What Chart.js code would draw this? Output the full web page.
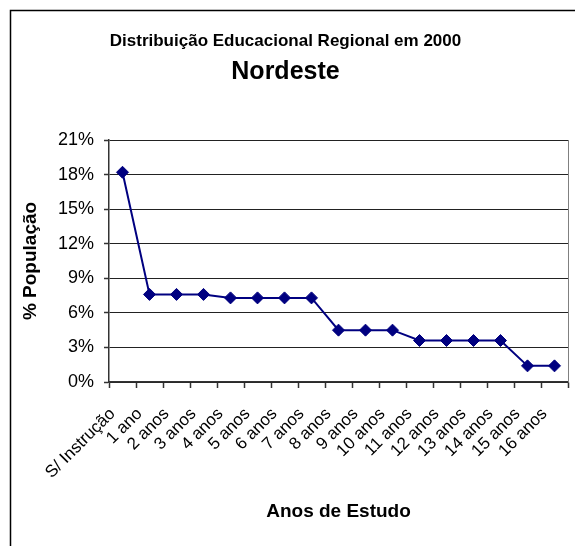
<!DOCTYPE html>
<html lang="pt">
<head>
<meta charset="utf-8">
<title>Distribuição Educacional Regional em 2000 - Nordeste</title>
<script src="https://cdn.jsdelivr.net/npm/chart.js@4/dist/chart.umd.min.js"></script>
<style>
  html, body { margin: 0; padding: 0; background: #ffffff; overflow: hidden; }
  #wrap { position: relative; width: 575px; height: 546px; }
</style>
</head>
<body>
<div id="wrap"><canvas id="chart" width="575" height="546"></canvas></div>
<script>
// Anos de estudo (categorias do eixo X)
const categories = [
  'S/ Instrução', '1 ano', '2 anos', '3 anos', '4 anos', '5 anos', '6 anos',
  '7 anos', '8 anos', '9 anos', '10 anos', '11 anos', '12 anos', '13 anos',
  '14 anos', '15 anos', '16 anos'
];

// Percentual da população do Nordeste em cada faixa
const populationPct = [
  18.2, 7.6, 7.6, 7.6, 7.3, 7.3, 7.3, 7.3, 4.5, 4.5, 4.5, 3.6, 3.6, 3.6, 3.6, 1.4, 1.4
];

// Marcas do eixo Y (%)
const yTicks = [0, 3, 6, 9, 12, 15, 18, 21];

const titleText = 'Distribuição Educacional Regional em 2000';
const subtitleText = 'Nordeste';
const xAxisTitle = 'Anos de Estudo';
const yAxisTitle = '% População';

const FONT = 'Liberation Sans, Arial, Helvetica, sans-serif';

// Moldura externa do gráfico
const frame = {
  id: 'frame',
  beforeDraw(chart) {
    const ctx = chart.ctx;
    ctx.save();
    ctx.fillStyle = '#ffffff';
    ctx.fillRect(0, 0, chart.width, chart.height);
    ctx.strokeStyle = '#000000';
    ctx.lineWidth = 1.5;
    ctx.strokeRect(10.5, 10.5, chart.width + 40, chart.height + 40);
    ctx.restore();
  }
};

// Borda direita da área de plotagem
const plotEdge = {
  id: 'plotEdge',
  beforeDatasetsDraw(chart) {
    const { ctx, chartArea } = chart;
    ctx.save();
    ctx.strokeStyle = '#808080';
    ctx.lineWidth = 1;
    ctx.beginPath();
    ctx.moveTo(Math.round(chartArea.right) + 0.5, chartArea.top);
    ctx.lineTo(Math.round(chartArea.right) + 0.5, chartArea.bottom);
    ctx.stroke();
    ctx.restore();
  }
};

new Chart(document.getElementById('chart'), {
  type: 'line',
  data: {
    labels: categories,
    datasets: [{
      data: populationPct,
      borderColor: '#000080',
      backgroundColor: '#000080',
      borderWidth: 2,
      pointStyle: 'rectRot',
      pointRadius: 6,
      pointBorderWidth: 1,
      pointBorderColor: '#000080',
      pointBackgroundColor: '#000080',
      tension: 0,
      fill: false
    }]
  },
  options: {
    responsive: false,
    animation: false,
    devicePixelRatio: 1,
    layout: { padding: { left: 0, right: 4, top: 0, bottom: 0 } },
    plugins: {
      legend: { display: false },
      tooltip: { enabled: false },
      title: {
        display: true,
        text: titleText,
        color: '#000000',
        font: { family: FONT, size: 17, weight: 'bold' },
        padding: { top: 31, bottom: 0 }
      },
      subtitle: {
        display: true,
        text: subtitleText,
        color: '#000000',
        font: { family: FONT, size: 25, weight: 'bold' },
        padding: { top: 6, bottom: 52.6 }
      }
    },
    scales: {
      x: {
        type: 'category',
        offset: true,
        afterFit(scale) {
          scale.height = 164;
          scale.paddingLeft = 0;
          scale.paddingRight = 0;
        },
        border: { display: true, color: '#333333', width: 1.5 },
        grid: {
          offset: true,
          drawOnChartArea: false,
          drawTicks: true,
          tickLength: 6,
          tickColor: '#333333',
          tickWidth: 1.5
        },
        ticks: {
          autoSkip: false,
          minRotation: 45,
          maxRotation: 45,
          padding: 16,
          labelOffset: -10,
          color: '#000000',
          font: { family: FONT, size: 17 }
        },
        title: {
          display: true,
          text: xAxisTitle,
          color: '#000000',
          font: { family: FONT, size: 19, weight: 'bold' },
          padding: { top: 0, bottom: 22.6 }
        }
      },
      y: {
        min: 0,
        max: 21,
        afterFit(scale) {
          scale.width = 109;
          scale.paddingTop = 0;
          scale.paddingBottom = 0;
        },
        afterBuildTicks(scale) {
          scale.ticks = yTicks.map(v => ({ value: v }));
        },
        border: { display: true, color: '#333333', width: 1.5 },
        grid: {
          color: '#222222',
          lineWidth: 1,
          drawTicks: true,
          tickLength: 5,
          tickColor: '#333333',
          tickWidth: 1.5
        },
        ticks: {
          padding: 10,
          color: '#000000',
          font: { family: FONT, size: 18 },
          callback: v => v + '%'
        },
        title: {
          display: true,
          text: yAxisTitle,
          color: '#000000',
          font: { family: FONT, size: 19, weight: 'bold' },
          padding: { top: 19.6, bottom: 0 }
        }
      }
    }
  },
  plugins: [frame, plotEdge]
});
</script>
</body>
</html>
